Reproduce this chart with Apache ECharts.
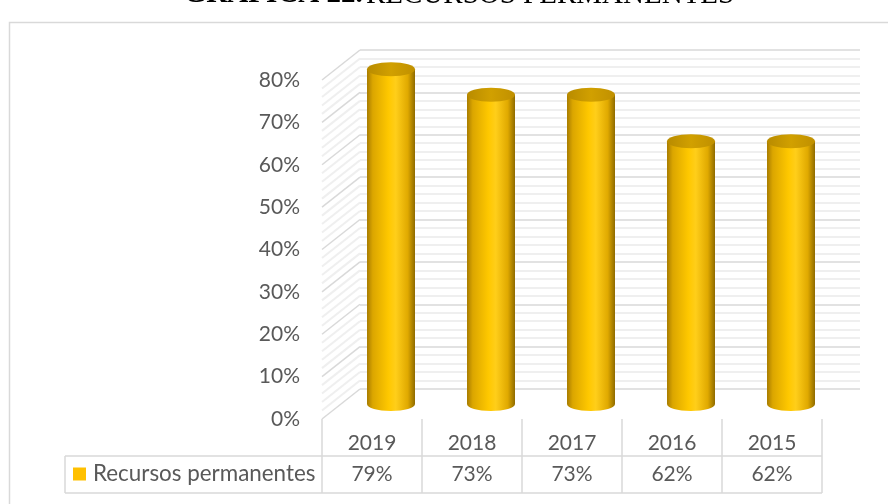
<!DOCTYPE html>
<html>
<head>
<meta charset="utf-8">
<script src="https://cdn.jsdelivr.net/npm/echarts@6/dist/echarts.min.js"></script>
<style>
  html, body { margin: 0; padding: 0; background: #ffffff; }
  #chart { width: 888px; height: 504px; }
</style>
</head>
<body>
<div id="chart"></div>
<script>
// Categories and values
const years = ['2019', '2018', '2017', '2016', '2015'];
const recursosPermanentes = [79, 73, 73, 62, 62];
const seriesName = 'Recursos permanentes';
const titleBold = 'GRÁFICA 22.';
const titleRest = 'RECURSOS PERMANENTES';

// Value axis range
const yMin = 0, yMax = 80, yStep = 10, yMinorSplits = 5;

// Pseudo-3D depth offset of the back wall relative to the front plane (px)
const DX = 38, DY = -30;

const FONT = 'Lato, "Noto Sans", sans-serif';
const TEXT_COLOR = '#595959';
const MAJOR = '#d9d9d9';
const MINOR = '#efefef';

const chart = echarts.init(document.getElementById('chart'), null, { renderer: 'canvas' });

// Cylinder shading
const bodyGradient = () => new echarts.graphic.LinearGradient(0, 0, 1, 0, [
  { offset: 0, color: '#a87c00' },
  { offset: 0.12, color: '#dba600' },
  { offset: 0.45, color: '#ffc800' },
  { offset: 0.6, color: '#ffce1a' },
  { offset: 0.85, color: '#e0a900' },
  { offset: 1, color: '#8f6b00' }
]);
const topGradient = () => new echarts.graphic.LinearGradient(0, 0, 1, 0, [
  { offset: 0, color: '#b88b00' },
  { offset: 0.5, color: '#d1a000' },
  { offset: 1, color: '#c09000' }
]);

function renderCylinder(params, api) {
  const i = api.value(0);
  const v = api.value(1);
  const base = api.coord([i, 0]);
  const top = api.coord([i, v]);
  const band = api.size([1, 0])[0];
  const rx = band * 0.24;
  const ry = 7;
  const cx = base[0] + DX / 2;
  const yb = base[1] + DY / 2;
  const yt = top[1] + DY / 2;
  return {
    type: 'group',
    children: [
      { type: 'ellipse', shape: { cx: cx, cy: yb, rx: rx, ry: ry }, style: { fill: bodyGradient() } },
      { type: 'rect', shape: { x: cx - rx, y: yt, width: rx * 2, height: yb - yt }, style: { fill: bodyGradient() } },
      { type: 'ellipse', shape: { cx: cx, cy: yt, rx: rx, ry: ry }, style: { fill: topGradient() } }
    ]
  };
}

// Left side wall: diagonal lines joining the front plane to the back wall
function renderSideWall(params, api) {
  const x0 = params.coordSys.x;
  const children = [];
  const minorStep = yStep / yMinorSplits;
  for (let k = 0; k <= (yMax - yMin) / minorStep; k++) {
    const val = yMin + k * minorStep;
    const y = api.coord([0, val])[1];
    const major = k % yMinorSplits === 0;
    children.push({
      type: 'line',
      shape: { x1: x0, y1: y, x2: x0 + DX, y2: y + DY },
      style: { stroke: major ? MAJOR : MINOR, lineWidth: major ? 1.5 : 2 }
    });
  }
  return { type: 'group', children: children };
}

// Data table under the plot: cell borders and the value row
function renderTable(params, api) {
  const i = api.value(0);
  const v = api.value(1);
  const base = api.coord([i, 0]);
  const band = api.size([1, 0])[0];
  const left = base[0] - band / 2;
  const right = base[0] + band / 2;
  const y0 = base[1];
  const yMid = y0 + 37;
  const yEnd = y0 + 74;
  const line = { stroke: MAJOR, lineWidth: 1.5 };
  const children = [
    { type: 'line', shape: { x1: left, y1: y0, x2: left, y2: yEnd }, style: line },
    { type: 'line', shape: { x1: left, y1: yMid, x2: right, y2: yMid }, style: line },
    { type: 'line', shape: { x1: left, y1: yEnd, x2: right, y2: yEnd }, style: line },
    {
      type: 'text',
      style: {
        x: base[0], y: y0 + 55.5, text: v + '%', align: 'center', verticalAlign: 'middle',
        fill: TEXT_COLOR, font: '21px ' + FONT
      }
    }
  ];
  if (i === years.length - 1) {
    children.push({ type: 'line', shape: { x1: right, y1: y0, x2: right, y2: yEnd }, style: line });
  }
  if (i === 0) {
    // legend key cell
    const hl = 65;
    children.push({ type: 'line', shape: { x1: hl, y1: yMid, x2: left, y2: yMid }, style: line });
    children.push({ type: 'line', shape: { x1: hl, y1: yEnd, x2: left, y2: yEnd }, style: line });
    children.push({ type: 'line', shape: { x1: hl, y1: yMid, x2: hl, y2: yEnd }, style: line });
  }
  return { type: 'group', children: children };
}

const points = recursosPermanentes.map((v, i) => [i, v]);

chart.setOption({
  animation: false,
  backgroundColor: '#ffffff',
  legend: {
    data: [seriesName],
    left: 73,
    top: 462,
    padding: 0,
    icon: 'rect',
    itemWidth: 13,
    itemHeight: 13,
    itemGap: 0,
    textStyle: { color: TEXT_COLOR, fontSize: 22.4, fontFamily: FONT, lineHeight: 24, padding: [0, 0, 0, 2] }
  },
  graphic: [
    {
      type: 'rect', silent: true, z: -10,
      shape: { x: 9.5, y: 22.5, width: 1000, height: 600 },
      style: { fill: 'none', stroke: MAJOR, lineWidth: 1.5 }
    },
    {
      type: 'text', silent: true,
      style: {
        x: 459, y: 9.5, align: 'center', verticalAlign: 'bottom',
        text: '{b|' + titleBold + '} {r|' + titleRest + '}',
        rich: {
          b: { font: 'bold 29px "Liberation Serif", serif', fill: '#000000' },
          r: { font: '29px "Liberation Serif", serif', fill: '#000000' }
        }
      }
    }
  ],
  grid: [
    { left: 322, top: 80, width: 500, height: 339 },
    { left: 322 + DX, top: 80 + DY, width: 500, height: 339 }
  ],
  xAxis: [
    {
      gridIndex: 0, type: 'category', data: years,
      axisLine: { show: false }, axisTick: { show: false }, splitLine: { show: false },
      axisLabel: { color: TEXT_COLOR, fontSize: 21, fontFamily: FONT, margin: 24, verticalAlign: 'middle' }
    },
    {
      gridIndex: 1, type: 'category', data: years, show: false
    }
  ],
  yAxis: [
    {
      gridIndex: 0, type: 'value', min: yMin, max: yMax, interval: yStep,
      axisLine: { show: false }, axisTick: { show: false }, splitLine: { show: false },
      axisLabel: { color: TEXT_COLOR, fontSize: 21, fontFamily: FONT, margin: 22, formatter: '{value}%' }
    },
    {
      gridIndex: 1, type: 'value', min: yMin, max: yMax, interval: yStep,
      axisLine: { show: false }, axisTick: { show: false }, axisLabel: { show: false },
      splitLine: { show: true, lineStyle: { color: MAJOR, width: 1.5 } },
      minorTick: { show: false, splitNumber: yMinorSplits },
      minorSplitLine: { show: true, lineStyle: { color: MINOR, width: 2 } }
    }
  ],
  series: [
    {
      type: 'custom', name: 'sideWall', silent: true,
      xAxisIndex: 0, yAxisIndex: 0,
      data: [[0, 0]], renderItem: renderSideWall, z: 1
    },
    {
      type: 'custom', name: 'table', silent: true,
      xAxisIndex: 0, yAxisIndex: 0,
      data: points, renderItem: renderTable, z: 1
    },
    {
      type: 'custom', name: seriesName,
      xAxisIndex: 0, yAxisIndex: 0,
      itemStyle: { color: '#ffc000' },
      encode: { x: 0, y: 1 },
      data: points, renderItem: renderCylinder, z: 3
    }
  ]
});
</script>
</body>
</html>
